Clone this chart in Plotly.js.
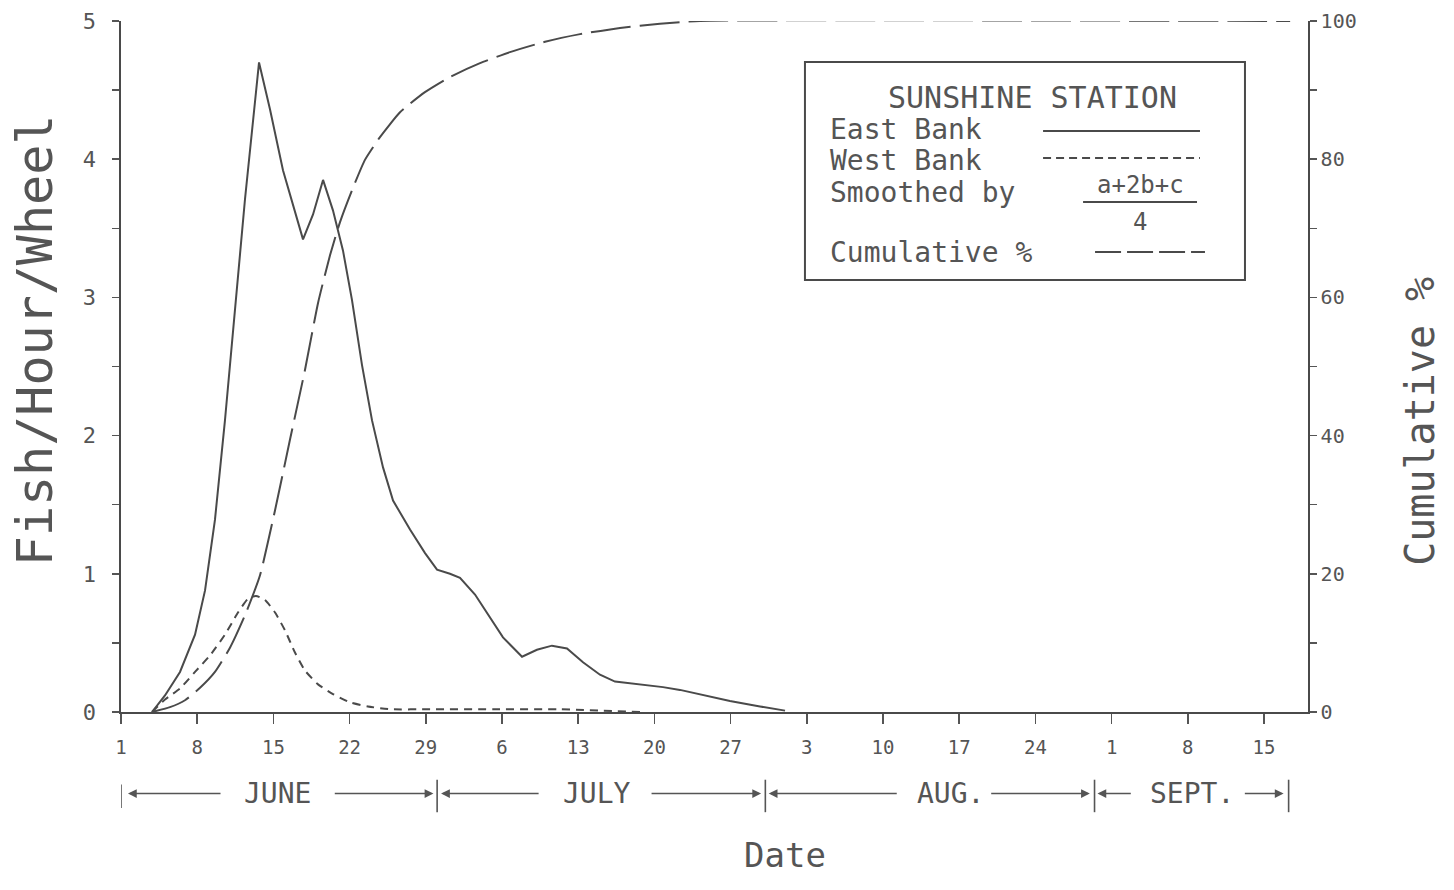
<!DOCTYPE html>
<html>
<head>
<meta charset="utf-8">
<script src="https://cdn.plot.ly/plotly-3.0.1.min.js"></script>
<style>
  html, body { margin: 0; padding: 0; background: #fff; }
  #chart { width: 1454px; height: 890px; }
</style>
</head>
<body>
<div id="chart"></div>
<script>
// ---- Data (x = days since June 1) ----
const eastDay = [2.85, 4.04, 5.42, 6.8, 7.72, 8.63, 9.55, 10.47, 11.39, 12.68, 13.69, 14.88, 15.8, 16.72, 17.64, 18.56, 19.47, 20.39, 21.22, 22.14, 23.06, 24.07, 24.99, 26.55, 27.93, 29.03, 30.22, 31.14, 32.52, 33.9, 35.09, 36.84, 38.21, 39.59, 40.97, 42.44, 44.0, 45.38, 47.68, 49.79, 51.35, 53.65, 55.94, 58.7, 61.0];
const eastVal = [0, 0.12, 0.29, 0.56, 0.88, 1.39, 2.11, 2.91, 3.71, 4.70, 4.36, 3.92, 3.67, 3.42, 3.60, 3.85, 3.63, 3.34, 2.98, 2.51, 2.11, 1.77, 1.53, 1.32, 1.15, 1.03, 1.00, 0.97, 0.85, 0.68, 0.54, 0.40, 0.45, 0.48, 0.46, 0.36, 0.27, 0.22, 0.20, 0.18, 0.16, 0.12, 0.08, 0.04, 0.01];

const westDay = [2.85, 4.04, 5.42, 6.8, 8.18, 9.55, 10.75, 11.67, 12.4, 13.23, 14.15, 15.07, 15.98, 16.9, 18.1, 19.47, 21.04, 22.69, 24.71, 28.4, 34.8, 40.3, 47.7];
const westVal = [0, 0.09, 0.17, 0.29, 0.41, 0.56, 0.72, 0.82, 0.84, 0.81, 0.72, 0.59, 0.43, 0.30, 0.20, 0.13, 0.07, 0.04, 0.02, 0.02, 0.02, 0.02, 0.0];

const cumDay = [2.85, 4.5, 5.88, 7.26, 8.63, 10.01, 11.39, 12.77, 14.15, 15.52, 16.9, 18.1, 19.2, 20.12, 21.22, 22.41, 23.79, 25.63, 27.92, 30.22, 32.98, 35.73, 38.95, 42.17, 45.84, 49.51, 53.19, 107.4];
const cumPct = [0, 0.7, 1.7, 3.5, 5.8, 9.3, 14.0, 19.8, 29.2, 39.4, 49.5, 59.2, 66.1, 70.9, 75.5, 79.9, 83.2, 86.8, 89.7, 91.9, 93.9, 95.5, 97.0, 98.1, 99.0, 99.6, 100, 100];

const tickDays = [0, 7, 14, 21, 28, 35, 42, 49, 56, 63, 70, 77, 84, 91, 98, 105];
const tickText = ['1', '8', '15', '22', '29', '6', '13', '20', '27', '3', '10', '17', '24', '1', '8', '15'];
const leftTicks = [0, 0.5, 1, 1.5, 2, 2.5, 3, 3.5, 4, 4.5, 5];
const leftText = ['0', '', '1', '', '2', '', '3', '', '4', '', '5'];
const rightTicks = [0, 10, 20, 30, 40, 50, 60, 70, 80, 90, 100];
const rightText = ['0', '', '20', '', '40', '', '60', '', '80', '', '100'];
const months = ['JUNE', 'JULY', 'AUG.', 'SEPT.'];

// ---- Styling ----
const INK = '#4a4a4a';
const TXT = '#555555';
const MONO = 'DejaVu Sans Mono, monospace';

const traces = [
  { x: eastDay, y: eastVal, mode: 'lines', name: 'East Bank',
    line: { color: INK, width: 2 }, yaxis: 'y' },
  { x: westDay, y: westVal, mode: 'lines', name: 'West Bank',
    line: { color: INK, width: 2, dash: '8px,6px', shape: 'spline', smoothing: 0.5 }, yaxis: 'y' },
  { x: cumDay, y: cumPct, mode: 'lines', name: 'Cumulative %',
    line: { color: INK, width: 2, dash: '40px,9px', shape: 'spline', smoothing: 0.5 }, yaxis: 'y2' }
];

// month row layout
const monthY = -0.118;
const seps = [0, 29.04, 59.19, 89.43, 107.26];
const arrows = [
  [0.64, 9.28], [28.7, 19.5],
  [29.4, 38.5], [58.8, 48.6],
  [59.5, 71.4], [89.0, 79.8],
  [89.7, 92.9], [106.8, 103.1]
];
const monthCenters = [14.4, 43.7, 76.2, 98.4];

const annotations = [];
arrows.forEach(a => annotations.push({
  x: a[0], y: monthY, xref: 'x', yref: 'paper',
  ax: a[1], ay: 0, axref: 'x', ayref: 'pixel',
  text: '', showarrow: true, arrowhead: 2, arrowsize: 1.1,
  arrowwidth: 1.6, arrowcolor: TXT
}));
months.forEach((m, i) => annotations.push({
  x: monthCenters[i], y: monthY, xref: 'x', yref: 'paper',
  text: m, showarrow: false, xanchor: 'center', yanchor: 'middle',
  font: { family: MONO, size: 28, color: TXT }
}));
annotations.push({
  x: 0.5594, y: -0.207, xref: 'paper', yref: 'paper', text: 'Date',
  showarrow: false, xanchor: 'center', yanchor: 'middle',
  font: { family: MONO, size: 34, color: TXT }
});
// axis titles (placed as rotated text to match reference positions)
annotations.push({
  x: -0.0725, y: 0.538, xref: 'paper', yref: 'paper', text: 'Fish/Hour/Wheel',
  textangle: -90, showarrow: false, xanchor: 'center', yanchor: 'middle',
  font: { family: MONO, size: 50, color: TXT }
});
annotations.push({
  x: 1.0944, y: 0.42, xref: 'paper', yref: 'paper', text: 'Cumulative %',
  textangle: -90, showarrow: false, xanchor: 'center', yanchor: 'middle',
  font: { family: MONO, size: 40, color: TXT }
});

// legend box texts
const legFont = { family: MONO, size: 28, color: TXT };
annotations.push({ x: 0.7675, y: 0.8886, xref: 'paper', yref: 'paper', text: 'SUNSHINE STATION',
  showarrow: false, xanchor: 'center', yanchor: 'middle', font: { family: MONO, size: 30, color: TXT } });
annotations.push({ x: 0.5956, y: 0.8423, xref: 'paper', yref: 'paper', text: 'East Bank',
  showarrow: false, xanchor: 'left', yanchor: 'middle', font: legFont });
annotations.push({ x: 0.5956, y: 0.7974, xref: 'paper', yref: 'paper', text: 'West Bank',
  showarrow: false, xanchor: 'left', yanchor: 'middle', font: legFont });
annotations.push({ x: 0.5956, y: 0.7511, xref: 'paper', yref: 'paper', text: 'Smoothed by',
  showarrow: false, xanchor: 'left', yanchor: 'middle', font: legFont });
annotations.push({ x: 0.8585, y: 0.7625, xref: 'paper', yref: 'paper', text: 'a+2b+c',
  showarrow: false, xanchor: 'center', yanchor: 'middle', font: { family: MONO, size: 24, color: TXT } });
annotations.push({ x: 0.8585, y: 0.7091, xref: 'paper', yref: 'paper', text: '4',
  showarrow: false, xanchor: 'center', yanchor: 'middle', font: { family: MONO, size: 24, color: TXT } });
annotations.push({ x: 0.5956, y: 0.6643, xref: 'paper', yref: 'paper', text: 'Cumulative %',
  showarrow: false, xanchor: 'left', yanchor: 'middle', font: legFont });

const shapes = [];
// legend frame
shapes.push({ type: 'rect', xref: 'paper', yref: 'paper', x0: 0.5762, x1: 0.9469, y0: 0.6252, y1: 0.9407,
  line: { color: INK, width: 2 } });
// legend samples
shapes.push({ type: 'line', xref: 'paper', yref: 'paper', x0: 0.7768, x1: 0.9090, y0: 0.8408, y1: 0.8408,
  line: { color: INK, width: 2 } });
shapes.push({ type: 'line', xref: 'paper', yref: 'paper', x0: 0.7768, x1: 0.9090, y0: 0.8017, y1: 0.8017,
  line: { color: INK, width: 2, dash: '8px,5px' } });
shapes.push({ type: 'line', xref: 'paper', yref: 'paper', x0: 0.8105, x1: 0.9065, y0: 0.7381, y1: 0.7381,
  line: { color: INK, width: 2 } });
shapes.push({ type: 'line', xref: 'paper', yref: 'paper', x0: 0.8206, x1: 0.9132, y0: 0.6657, y1: 0.6657,
  line: { color: INK, width: 2, dash: '26px,6px' } });
// month separators
seps.forEach((s, i) => shapes.push({
  type: 'line', xref: 'x', yref: 'paper', x0: s, x1: s,
  y0: i === 0 ? -0.105 : -0.098, y1: i === 0 ? -0.139 : -0.145,
  line: { color: TXT, width: 1.6 }
}));

const layout = {
  width: 1454, height: 890,
  margin: { l: 121, r: 146, t: 21, b: 178, pad: 0 },
  paper_bgcolor: '#fff', plot_bgcolor: '#fff',
  showlegend: false,
  xaxis: {
    range: [0, 109.04], tickvals: tickDays, ticktext: tickText,
    ticks: 'outside', ticklen: 10, tickwidth: 1.5, tickcolor: TXT,
    ticklabelstandoff: 8,
    showline: true, linecolor: INK, linewidth: 1.6,
    showgrid: false, zeroline: false, fixedrange: true,
    tickfont: { family: MONO, size: 19, color: TXT }
  },
  yaxis: {
    range: [0, 5], tickvals: leftTicks, ticktext: leftText,
    ticks: 'outside', ticklen: 7, tickwidth: 1.5, tickcolor: TXT,
    ticklabelstandoff: 12,
    showline: true, linecolor: INK, linewidth: 1.6,
    showgrid: false, zeroline: false, fixedrange: true,
    tickfont: { family: MONO, size: 22, color: TXT }
  },
  yaxis2: {
    range: [0, 100], overlaying: 'y', side: 'right',
    tickvals: rightTicks, ticktext: rightText,
    ticks: 'outside', ticklen: 7, tickwidth: 1.5, tickcolor: TXT,
    showline: true, linecolor: INK, linewidth: 1.6,
    showgrid: false, zeroline: false, fixedrange: true,
    tickfont: { family: MONO, size: 20, color: TXT }
  },
  annotations: annotations,
  shapes: shapes
};

Plotly.newPlot('chart', traces, layout, { displayModeBar: false, staticPlot: true });
</script>
</body>
</html>
